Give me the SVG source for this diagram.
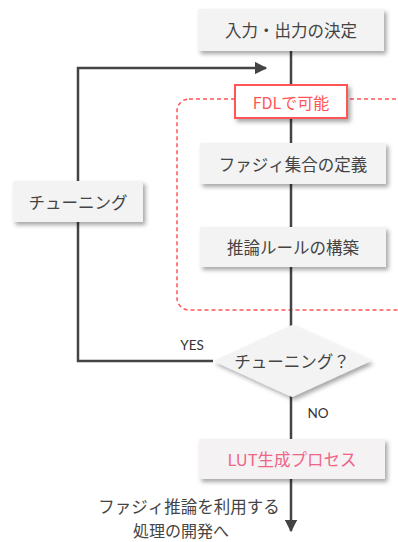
<svg xmlns="http://www.w3.org/2000/svg" width="398" height="542" viewBox="0 0 398 542">
<style>
.box{fill:#f3f3f3;filter:url(#sh)}
.t{font-family:"Noto Sans CJK JP","Noto Sans",sans-serif;font-size:16.5px;fill:#444;text-anchor:middle;dominant-baseline:central}
.lbl{font-family:Lato,"Noto Sans",sans-serif;font-size:13.5px;fill:#333;text-anchor:middle;dominant-baseline:central}
.ln{stroke:#444;stroke-width:2.5;fill:none}
</style>
<defs>
<filter id="sh" x="-10%" y="-20%" width="130%" height="160%">
<feDropShadow dx="2.5" dy="3" stdDeviation="2" flood-color="#000" flood-opacity="0.35"/>
</filter>
<marker id="ah" viewBox="0 0 10 10" refX="9" refY="5" markerWidth="5" markerHeight="5" orient="auto" markerUnits="strokeWidth">
<path d="M0,0 L10,5 L0,10 z" fill="#444"/>
</marker>
</defs>
<rect x="0" y="0" width="398" height="542" fill="#fff"/>
<g id="fdl-region">
<rect x="177" y="99" width="240" height="211" rx="12" fill="none" stroke="#f55" stroke-width="1.5" stroke-dasharray="4 3"/>
</g>
<g id="connectors">
<line class="ln" x1="291" y1="51" x2="291" y2="531" marker-end="url(#ah)"/>
<polyline class="ln" points="213,361 78,361 78,68 266,68" marker-end="url(#ah)"/>
<text class="lbl" x="192" y="345">YES</text>
<text class="lbl" x="318" y="413">NO</text>
</g>
<g id="n-io">
<rect class="box" x="198" y="9" width="186" height="42"/>
<text class="t" x="291" y="30">入力・出力の決定</text>
</g>
<g id="n-fdl">
<rect x="235" y="85" width="112" height="33" fill="#fff" stroke="#f55" stroke-width="2" filter="url(#sh)"/>
<text class="t" x="291" y="101.5" style="fill:#f55;font-size:16px">FDLで可能</text>
</g>
<g id="n-set">
<rect class="box" x="200" y="143" width="186" height="41"/>
<text class="t" x="293" y="163.5">ファジィ集合の定義</text>
</g>
<g id="n-rule">
<rect class="box" x="200" y="227" width="186" height="40"/>
<text class="t" x="293" y="247">推論ルールの構築</text>
</g>
<g id="n-tune">
<rect class="box" x="13" y="181" width="130" height="41"/>
<text class="t" x="78" y="201.5">チューニング</text>
</g>
<g id="n-decide">
<polygon points="292,325 371,361 292,397 213,361" fill="#f3f3f3" filter="url(#sh)"/>
<text class="t" x="292" y="361">チューニング？</text>
</g>
<g id="n-lut">
<rect class="box" x="199" y="439" width="186" height="40" style="fill:#f4f2f2"/>
<text class="t" x="292" y="459" style="fill:#f0648a">LUT生成プロセス</text>
</g>
<g id="n-out">
<text class="t" x="189" y="506" style="font-size:16.5px">ファジィ推論を利用する</text>
<text class="t" x="181" y="530" style="font-size:16px">処理の開発へ</text>
</g>
</svg>
